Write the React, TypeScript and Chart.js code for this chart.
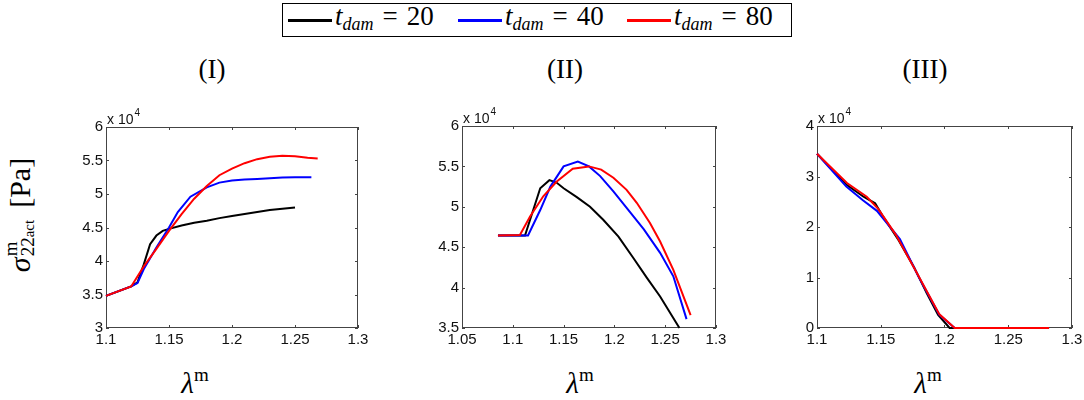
import { useEffect, useRef } from 'react';
import { Chart, registerables } from 'chart.js';

Chart.register(...registerables);

// values in units of 1e4 Pa, as the axes show them
const lamI_20 = [1.1, 1.12, 1.125, 1.13, 1.135, 1.14, 1.145, 1.15, 1.16, 1.17, 1.18, 1.19, 1.2, 1.21, 1.22, 1.23, 1.24, 1.25];
const sigI_20 = [3.48, 3.62, 3.68, 3.95, 4.25, 4.38, 4.45, 4.48, 4.53, 4.57, 4.6, 4.64, 4.67, 4.7, 4.73, 4.76, 4.78, 4.8];
const lamI_40 = [1.1, 1.12, 1.125, 1.13, 1.14, 1.15, 1.157, 1.167, 1.18, 1.19, 1.2, 1.21, 1.22, 1.23, 1.24, 1.25, 1.263];
const sigI_40 = [3.48, 3.62, 3.67, 3.88, 4.2, 4.5, 4.73, 4.96, 5.1, 5.17, 5.2, 5.215, 5.225, 5.235, 5.245, 5.25, 5.25];
const lamI_80 = [1.1, 1.12, 1.13, 1.14, 1.15, 1.16, 1.17, 1.18, 1.19, 1.2, 1.21, 1.22, 1.23, 1.24, 1.25, 1.26, 1.268];
const sigI_80 = [3.48, 3.62, 3.92, 4.18, 4.45, 4.7, 4.93, 5.12, 5.28, 5.38, 5.46, 5.52, 5.555, 5.57, 5.565, 5.54, 5.53];

const lamII_20 = [1.0854, 1.112, 1.127, 1.136, 1.143, 1.15, 1.163, 1.176, 1.189, 1.204, 1.219, 1.232, 1.245, 1.264];
const sigII_20 = [4.645, 4.645, 5.23, 5.33, 5.3, 5.23, 5.12, 5.0, 4.84, 4.63, 4.36, 4.12, 3.89, 3.5];
const lamII_40 = [1.0854, 1.115, 1.127, 1.137, 1.15, 1.164, 1.175, 1.186, 1.199, 1.215, 1.229, 1.245, 1.258, 1.271];
const sigII_40 = [4.645, 4.645, 4.96, 5.25, 5.5, 5.56, 5.5, 5.38, 5.19, 4.94, 4.72, 4.43, 4.14, 3.61];
const lamII_80 = [1.0854, 1.107, 1.117, 1.13, 1.143, 1.159, 1.175, 1.187, 1.199, 1.212, 1.222, 1.235, 1.245, 1.258, 1.275];
const sigII_80 = [4.645, 4.65, 4.88, 5.13, 5.31, 5.47, 5.5, 5.46, 5.36, 5.21, 5.05, 4.8, 4.57, 4.22, 3.66];

const lamIII_20 = [1.1, 1.1235, 1.1365, 1.1456, 1.152, 1.164, 1.176, 1.186, 1.195, 1.204, 1.282];
const sigIII_20 = [3.45, 2.83, 2.6, 2.47, 2.2, 1.74, 1.21, 0.69, 0.26, 0, 0];
const lamIII_40 = [1.1, 1.123, 1.136, 1.147, 1.165, 1.18, 1.196, 1.208, 1.282];
const sigIII_40 = [3.45, 2.8, 2.53, 2.32, 1.76, 1.0, 0.26, 0, 0];
const lamIII_80 = [1.1, 1.1235, 1.139, 1.148, 1.162, 1.176, 1.196, 1.208, 1.282];
const sigIII_80 = [3.45, 2.87, 2.6, 2.36, 1.84, 1.2, 0.27, 0, 0];

const xTicksI = [1.1, 1.15, 1.2, 1.25, 1.3];
const xTicksII = [1.05, 1.1, 1.15, 1.2, 1.25, 1.3];
const xTicksIII = [1.1, 1.15, 1.2, 1.25, 1.3];
const yTicksI = [3, 3.5, 4, 4.5, 5, 5.5, 6];
const yTicksII = [3.5, 4, 4.5, 5, 5.5, 6];
const yTicksIII = [0, 1, 2, 3, 4];

const damTimes = ['20', '40', '80'];
const colors = ['#000000', '#0000ff', '#ff0000'];

const PAD_L = 50;
const PAD_T = 22;
const PAD_R = 12;
const PAD_B = 30;

const zip = (xs: number[], ys: number[]) => xs.map((x, i) => ({ x, y: ys[i] }));
const fmt = (v: number) => String(parseFloat(v.toFixed(3)));
const sans = '"Liberation Sans", Arial, sans-serif';

// MATLAB-like box with inward ticks and the "x 10^4" exponent label
const framePlugin = {
  id: 'frame',
  beforeDatasetsDraw(chart: any) {
    const { ctx, chartArea: a, scales } = chart;
    ctx.save();
    ctx.strokeStyle = '#444';
    ctx.lineWidth = 1;
    ctx.strokeRect(a.left + 0.5, a.top + 0.5, a.right - a.left - 1, a.bottom - a.top - 1);
    ctx.beginPath();
    const t = 3;
    scales.x.ticks.forEach((tk: any) => {
      const px = Math.round(scales.x.getPixelForValue(tk.value)) + 0.5;
      ctx.moveTo(px, a.bottom); ctx.lineTo(px, a.bottom - t);
      ctx.moveTo(px, a.top); ctx.lineTo(px, a.top + t);
    });
    scales.y.ticks.forEach((tk: any) => {
      const py = Math.round(scales.y.getPixelForValue(tk.value)) + 0.5;
      ctx.moveTo(a.left, py); ctx.lineTo(a.left + t, py);
      ctx.moveTo(a.right, py); ctx.lineTo(a.right - t, py);
    });
    ctx.stroke();
    ctx.fillStyle = '#111';
    ctx.textBaseline = 'alphabetic';
    ctx.font = `14px ${sans}`;
    ctx.fillText('x 10', a.left + 1, a.top - 3);
    const w = ctx.measureText('x 10').width;
    ctx.font = `10px ${sans}`;
    ctx.fillText('4', a.left + 2 + w, a.top - 11);
    ctx.restore();
  },
};

type PanelProps = {
  left: number; top: number; width: number; height: number;
  xMin: number; xMax: number; yMin: number; yMax: number;
  xTicks: number[]; yTicks: number[];
  series: { x: number[]; y: number[] }[];
};

function Panel(p: PanelProps) {
  const ref = useRef<HTMLCanvasElement>(null);
  const cw = p.width + PAD_L + PAD_R;
  const ch = p.height + PAD_T + PAD_B;

  useEffect(() => {
    if (!ref.current) return;
    const tickFont = { family: sans, size: 15 };
    const chart = new Chart(ref.current, {
      type: 'line',
      data: {
        datasets: p.series.map((s, i) => ({
          label: damTimes[i],
          data: zip(s.x, s.y),
          borderColor: colors[i],
          borderWidth: 2,
          pointRadius: 0,
          fill: false,
          tension: 0,
          clip: false,
          order: 2 - i,
        })),
      },
      options: {
        responsive: false,
        animation: false,
        layout: { padding: { left: 0, top: PAD_T, right: PAD_R, bottom: 0 } },
        plugins: { legend: { display: false }, tooltip: { enabled: false } },
        scales: {
          x: {
            type: 'linear',
            min: p.xMin,
            max: p.xMax,
            grid: { display: false, drawTicks: false },
            border: { display: false },
            ticks: { font: tickFont, color: '#111', padding: 3, maxRotation: 0, callback: (v: any) => fmt(Number(v)) },
            afterBuildTicks: (s: any) => { s.ticks = p.xTicks.map((v) => ({ value: v })); },
            afterFit: (s: any) => { s.height = PAD_B; s.paddingLeft = 0; s.paddingRight = 0; },
          },
          y: {
            type: 'linear',
            min: p.yMin,
            max: p.yMax,
            grid: { display: false, drawTicks: false },
            border: { display: false },
            ticks: { font: tickFont, color: '#111', padding: 3, callback: (v: any) => fmt(Number(v)) },
            afterBuildTicks: (s: any) => { s.ticks = p.yTicks.map((v) => ({ value: v })); },
            afterFit: (s: any) => { s.width = PAD_L; s.paddingTop = 0; s.paddingBottom = 0; },
          },
        },
      } as any,
      plugins: [framePlugin],
    });
    return () => chart.destroy();
  }, []);

  return (
    <canvas
      ref={ref}
      width={cw}
      height={ch}
      style={{ position: 'absolute', left: p.left - PAD_L, top: p.top - PAD_T, width: cw, height: ch }}
    />
  );
}

const serif = '"Liberation Serif", "DejaVu Serif", serif';

function LegendItem({ left, color, value }: { left: number; color: string; value: string }) {
  return (
    <div style={{ position: 'absolute', left, top: 0, height: 32, display: 'flex', alignItems: 'center', whiteSpace: 'nowrap' }}>
      <div style={{ width: 44, height: 3, background: color, marginRight: 3 }} />
      <span style={{ fontFamily: serif, fontSize: 27, lineHeight: '32px' }}>
        <i>t</i>
        <sub style={{ fontSize: 18, fontStyle: 'italic', verticalAlign: -5 }}>dam</sub>
        <span style={{ margin: '0 9px' }}>=</span>
        <span>{value}</span>
      </span>
    </div>
  );
}

function Label({ left, top, children, size = 27 }: { left: number; top: number; children: any; size?: number }) {
  return (
    <div style={{ position: 'absolute', left, top, transform: 'translate(-50%, -50%)', fontFamily: serif, fontSize: size, whiteSpace: 'nowrap', lineHeight: 1 }}>
      {children}
    </div>
  );
}

const Lambda = () => (
  <span>
    <i>λ</i>
    <sup style={{ fontSize: 19, verticalAlign: 12 }}>m</sup>
  </span>
);

export default function App() {
  return (
    <div style={{ position: 'absolute', left: 0, top: 0, width: 1084, height: 400, overflow: 'hidden', background: '#fff' }}>
      <div style={{ position: 'absolute', left: 282, top: 3, width: 508, height: 32, border: '1.5px solid #000' }}>
        <LegendItem left={5} color={colors[0]} value={damTimes[0]} />
        <LegendItem left={175} color={colors[1]} value={damTimes[1]} />
        <LegendItem left={344} color={colors[2]} value={damTimes[2]} />
      </div>

      <Label left={212} top={69}>(I)</Label>
      <Label left={565} top={69}>(II)</Label>
      <Label left={925} top={69}>(III)</Label>

      <div style={{ position: 'absolute', left: 20, top: 215, transform: 'translate(-50%, -50%) rotate(-90deg)', fontFamily: serif, fontSize: 30, whiteSpace: 'nowrap', display: 'flex', alignItems: 'center' }}>
        <i>σ</i>
        <span style={{ display: 'inline-flex', flexDirection: 'column', fontSize: 19, lineHeight: '17px', marginLeft: 1 }}>
          <span>m</span>
          <span>22<span style={{ fontSize: 15 }}>act</span></span>
        </span>
        <span style={{ marginLeft: 12 }}>[Pa]</span>
      </div>

      <Label left={195} top={381} size={29}><Lambda /></Label>
      <Label left={580} top={381} size={29}><Lambda /></Label>
      <Label left={928} top={381} size={29}><Lambda /></Label>

      <Panel left={106} top={127} width={252} height={201} xMin={1.1} xMax={1.3} yMin={3} yMax={6}
        xTicks={xTicksI} yTicks={yTicksI}
        series={[{ x: lamI_20, y: sigI_20 }, { x: lamI_40, y: sigI_40 }, { x: lamI_80, y: sigI_80 }]} />
      <Panel left={462} top={126} width={254} height={202} xMin={1.05} xMax={1.3} yMin={3.5} yMax={6}
        xTicks={xTicksII} yTicks={yTicksII}
        series={[{ x: lamII_20, y: sigII_20 }, { x: lamII_40, y: sigII_40 }, { x: lamII_80, y: sigII_80 }]} />
      <Panel left={817} top={126} width={255} height={202} xMin={1.1} xMax={1.3} yMin={0} yMax={4}
        xTicks={xTicksIII} yTicks={yTicksIII}
        series={[{ x: lamIII_20, y: sigIII_20 }, { x: lamIII_40, y: sigIII_40 }, { x: lamIII_80, y: sigIII_80 }]} />
    </div>
  );
}
